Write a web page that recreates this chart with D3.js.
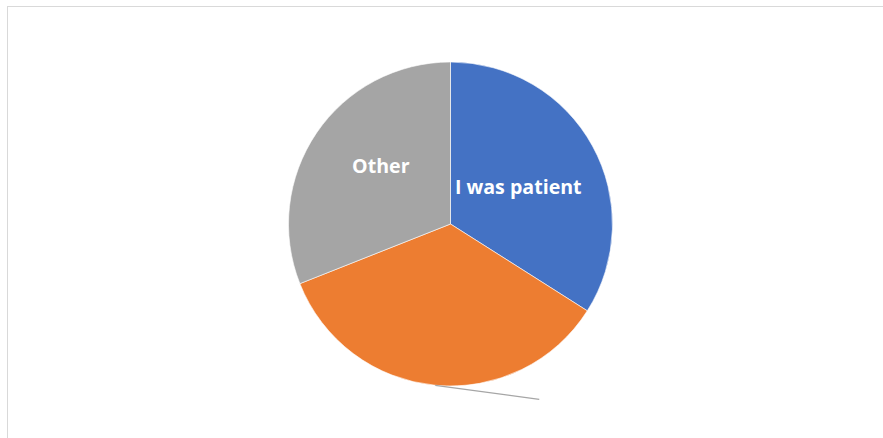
<!DOCTYPE html>
<html>
<head>
<meta charset="utf-8">
<script src="https://cdn.jsdelivr.net/npm/d3@7"></script>
<style>
  html, body { margin: 0; padding: 0; background: #ffffff; }
  svg { display: block; }
</style>
</head>
<body>
<svg id="chart" width="883" height="438"></svg>
<script>
// Slice categories, shares (percent) and colours, clockwise from 12 o'clock
const categories = ["I was patient", "Unlabelled", "Other"];
const values = [34, 35, 31];
const colors = ["#4472C4", "#ED7D31", "#A5A5A5"];
// Which slices carry an inside label
const showLabel = [true, false, true];

const W = 883, H = 438;
const cx = 450.5, cy = 224, radius = 162;

const svg = d3.select("#chart");

// Chart area frame
svg.append("rect")
  .attr("x", 7.5).attr("y", 6.5)
  .attr("width", W).attr("height", H)
  .attr("fill", "#ffffff")
  .attr("stroke", "#d9d9d9")
  .attr("stroke-width", 1);

const pie = d3.pie().sort(null).value(d => d.value);
const arcs = pie(categories.map((c, i) => ({ name: c, value: values[i], color: colors[i], label: showLabel[i] })));

const arc = d3.arc().innerRadius(0).outerRadius(radius);

const g = svg.append("g").attr("transform", `translate(${cx},${cy})`);

g.selectAll("path.slice")
  .data(arcs)
  .join("path")
  .attr("class", "slice")
  .attr("d", arc)
  .attr("fill", d => d.data.color)
  .attr("stroke", "#ffffff")
  .attr("stroke-width", 0.6);

// Leader line from the middle of the orange slice's rim towards its outside label position
const orange = arcs[1];
const mid = (orange.startAngle + orange.endAngle) / 2;
const lineStart = d3.arc().innerRadius(radius).outerRadius(radius).centroid({ startAngle: mid, endAngle: mid });
g.append("line")
  .attr("x1", lineStart[0]).attr("y1", lineStart[1])
  .attr("x2", lineStart[0] + 104).attr("y2", lineStart[1] + 14)
  .attr("stroke", "#a6a6a6")
  .attr("stroke-width", 1.2);

// Inside labels
const labelPos = {
  "I was patient": [518.3 - cx, 194 - cy],
  "Other": [380.8 - cx, 172.5 - cy]
};
g.selectAll("text.lbl")
  .data(arcs.filter(d => d.data.label))
  .join("text")
  .attr("class", "lbl")
  .attr("x", d => labelPos[d.data.name][0])
  .attr("y", d => labelPos[d.data.name][1])
  .attr("text-anchor", "middle")
  .attr("fill", "#ffffff")
  .attr("font-family", "'Open Sans', 'Noto Sans', sans-serif")
  .attr("font-weight", "bold")
  .attr("font-size", 19.6)
  .text(d => d.data.name);
</script>
</body>
</html>
